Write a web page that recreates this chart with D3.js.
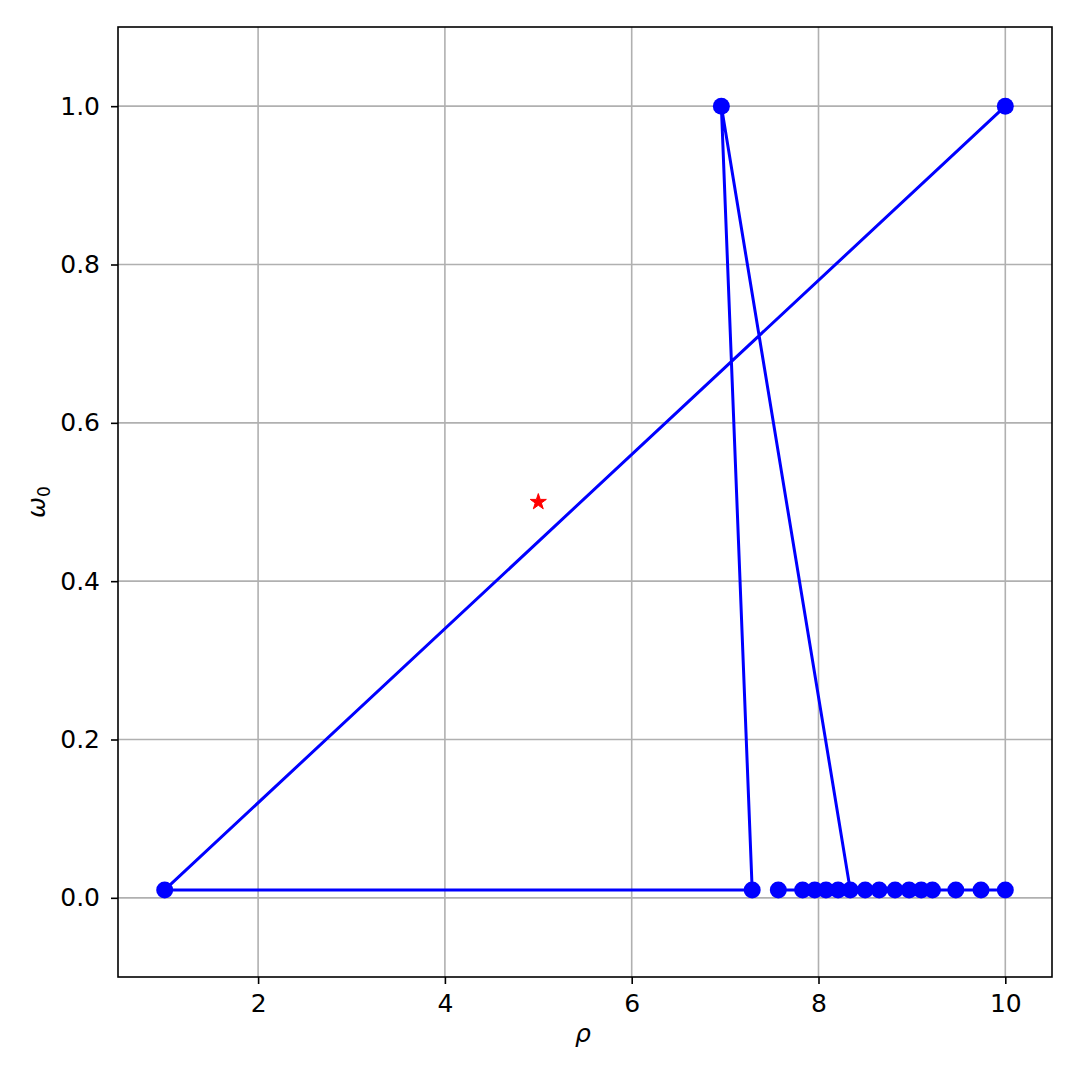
<!DOCTYPE html>
<html>
<head>
<meta charset="utf-8">
<script src="https://cdn.jsdelivr.net/npm/d3@7"></script>
<style>
  body { margin: 0; background: #fff; }
  text { font-family: "DejaVu Sans", sans-serif; }
</style>
</head>
<body>
<svg id="chart" width="1080" height="1080"></svg>
<script>
// trace of the search, in the order it was visited
var rho   = [10, 1, 7.29, 6.96, 8.34, 8.21, 8.08, 7.96, 7.83, 7.57, 8.50, 8.65, 8.82, 8.97, 9.10, 9.22, 9.47, 9.74, 10];
var omega = [1.0, 0.01, 0.01, 1.0, 0.01, 0.01, 0.01, 0.01, 0.01, 0.01, 0.01, 0.01, 0.01, 0.01, 0.01, 0.01, 0.01, 0.01, 0.01];
// the target point
var targetRho = [5];
var targetOmega = [0.5];

var xTicks = [2, 4, 6, 8, 10];
var yTicks = [0.0, 0.2, 0.4, 0.6, 0.8, 1.0];

const margin = { top: 27, right: 28, bottom: 103, left: 118 };
const w = 1080, h = 1080;
const width = w - margin.left - margin.right;
const height = h - margin.top - margin.bottom;

const svg = d3.select('#chart');
const g = svg.append('g')
    .attr('transform', 'translate(' + margin.left + ',' + margin.top + ')');

const x = d3.scaleLinear().domain([0.5, 10.5]).range([0, width]);
const y = d3.scaleLinear().domain([-0.1, 1.1]).range([height, 0]);

// grid
g.append('g').selectAll('line').data(xTicks).enter().append('line')
    .attr('x1', d => x(d)).attr('x2', d => x(d))
    .attr('y1', 0).attr('y2', height)
    .attr('stroke', '#b0b0b0').attr('stroke-width', 1.6);
g.append('g').selectAll('line').data(yTicks).enter().append('line')
    .attr('y1', d => y(d)).attr('y2', d => y(d))
    .attr('x1', 0).attr('x2', width)
    .attr('stroke', '#b0b0b0').attr('stroke-width', 1.6);

// axes
const axisX = d3.axisBottom(x).tickValues(xTicks).tickSizeInner(7).tickSizeOuter(0).tickPadding(10)
    .tickFormat(d3.format('d'));
const axisY = d3.axisLeft(y).tickValues(yTicks).tickSizeInner(7).tickSizeOuter(0).tickPadding(11)
    .tickFormat(d3.format('.1f'));

const gx = g.append('g').attr('transform', 'translate(0,' + height + ')').call(axisX);
const gy = g.append('g').call(axisY);
[gx, gy].forEach(a => {
    a.select('.domain').remove();
    a.selectAll('line').attr('stroke', '#000').attr('stroke-width', 1.6);
    a.selectAll('text').attr('fill', '#000').style('font-size', '25px')
        .style('font-family', '"DejaVu Sans", sans-serif');
});

// data line + markers
const pts = rho.map((d, i) => [d, omega[i]]);
g.append('path')
    .datum(pts)
    .attr('fill', 'none')
    .attr('stroke', '#0000ff')
    .attr('stroke-width', 3)
    .attr('stroke-linejoin', 'round')
    .attr('d', d3.line().x(d => x(d[0])).y(d => y(d[1])));

g.append('g').selectAll('circle').data(pts).enter().append('circle')
    .attr('cx', d => x(d[0]))
    .attr('cy', d => y(d[1]))
    .attr('r', 8.5)
    .attr('fill', '#0000ff');

// target star
g.append('g').selectAll('path').data(targetRho).enter().append('path')
    .attr('d', d3.symbol().type(d3.symbolStar).size(80))
    .attr('transform', (d, i) => 'translate(' + x(d) + ',' + y(targetOmega[i]) + ')')
    .attr('fill', '#ff0000')
    .attr('stroke', '#ff0000').attr('stroke-width', 1);

// frame
g.append('rect')
    .attr('width', width).attr('height', height)
    .attr('fill', 'none').attr('stroke', '#000').attr('stroke-width', 1.6);

// labels
svg.append('text')
    .attr('x', margin.left + width / 2 - 2).attr('y', 1042)
    .attr('text-anchor', 'middle')
    .style('font-size', '25px').style('font-style', 'italic')
    .text('ρ');

const yl = svg.append('text')
    .attr('transform', 'translate(45,' + (margin.top + height / 2) + ') rotate(-90)')
    .attr('text-anchor', 'middle')
    .style('font-size', '25px');
yl.append('tspan').style('font-style', 'italic').text('ω');
yl.append('tspan').attr('dy', 5).style('font-size', '17px').text('0');
</script>
</body>
</html>
